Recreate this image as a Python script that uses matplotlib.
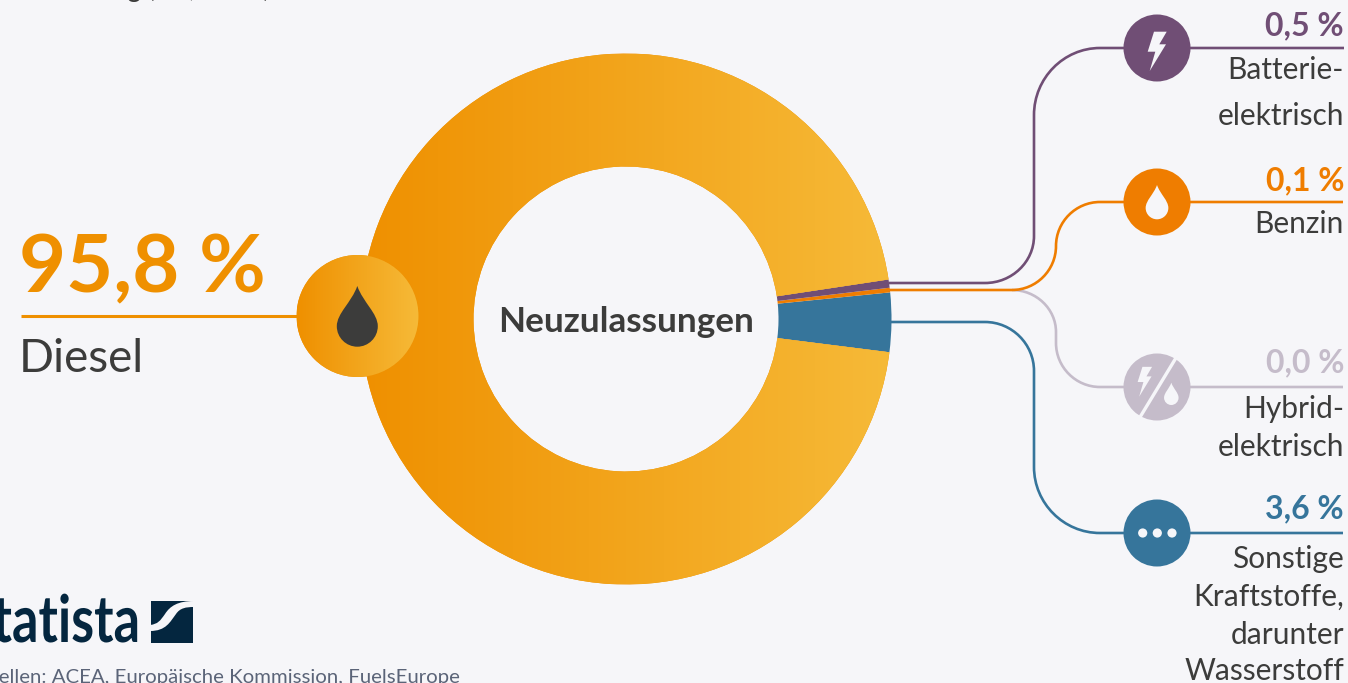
import numpy as np
import matplotlib
matplotlib.use('Agg')
import matplotlib.pyplot as plt
from matplotlib.colors import LinearSegmentedColormap
from matplotlib.patches import Circle, PathPatch, Polygon, Rectangle
from matplotlib.path import Path
from matplotlib.patheffects import AbstractPathEffect
from matplotlib.transforms import Affine2D

# donut slices, counter clockwise from the lower edge of the blue one
# (the orange sliver is drawn wider in the original than its 0,1 % label)
slice_names = ['Sonstige', 'Benzin', 'Batterie', 'Diesel']
slice_shares = [3.6, 0.28, 0.5, 95.62]

diesel_value = '95,8 %'
diesel_label = 'Diesel'
center_label = 'Neuzulassungen'

side_values = ['0,5 %', '0,1 %', '0,0 %', '3,6 %']
side_labels = [['Batterie-', 'elektrisch'],
               ['Benzin'],
               ['Hybrid-', 'elektrisch'],
               ['Sonstige', 'Kraftstoffe,', 'darunter', 'Wasserstoff']]
source_text = 'Quellen: ACEA, Europäische Kommission, FuelsEurope'
top_text = 'Verteilung (EU, 2023)'

BG = '#F6F6F9'
TEXT = '#3C3C3B'
PURPLE = '#704E75'
ORANGE = '#EF7D00'
GREY = '#C5BCCA'
BLUE = '#36759B'
NAVY = '#04263F'
FONT = 'Lato'

W, H = 1348, 683
grad = LinearSegmentedColormap.from_list('diesel', ['#EF9000', '#F6BA38'])
ramp = np.linspace(0, 1, 256).reshape(1, -1)

fig = plt.figure(figsize=(W / 100, H / 100), dpi=100, facecolor=BG)

# donut in its own axes
cx, cy, R = 626, 319, 265.5
pie_ax = fig.add_axes([(cx - R) / W, (H - cy - R) / H, 2 * R / W, 2 * R / H])
wedges, _ = pie_ax.pie(slice_shares, colors=[BLUE, ORANGE, PURPLE, '#EF9000'],
                       startangle=-7.2, counterclock=True, radius=1,
                       wedgeprops={'width': 1 - 152.5 / R, 'linewidth': 0})
im = pie_ax.imshow(ramp, cmap=grad, extent=(-1, 1, -1, 1), aspect='auto', zorder=3)
im.set_clip_path(wedges[3])
pie_ax.set_xlim(-1, 1)
pie_ax.set_ylim(-1, 1)
pie_ax.axis('off')

# everything else in pixel coordinates of the picture
ax = fig.add_axes([0, 0, 1, 1])
ax.set_xlim(0, W)
ax.set_ylim(H, 0)
ax.axis('off')
ax.patch.set_alpha(0)


class Squeeze(AbstractPathEffect):
    # narrows a text about a pixel x position, there is no condensed font here
    def __init__(self, x, fx):
        super().__init__()
        self.x, self.fx = x, fx

    def draw_path(self, renderer, gc, tpath, affine, rgbFace=None):
        t = affine + Affine2D().translate(-self.x, 0).scale(self.fx, 1).translate(self.x, 0)
        renderer.draw_path(gc, tpath, t, rgbFace)


def connector(pts, color, z=2):
    # a 2-tuple is a straight part, a 4-tuple is (corner, end of arc)
    k = 0.55
    verts = [pts[0]]
    codes = [Path.MOVETO]
    for p in pts[1:]:
        if len(p) == 2:
            verts.append(p)
            codes.append(Path.LINETO)
        else:
            x0, y0 = verts[-1]
            x1, y1, x2, y2 = p
            verts += [(x0 + (x1 - x0) * k, y0 + (y1 - y0) * k),
                      (x2 + (x1 - x2) * k, y2 + (y1 - y2) * k), (x2, y2)]
            codes += [Path.CURVE4] * 3
    ax.add_patch(PathPatch(Path(verts, codes), fc='none', ec=color, lw=1.9,
                           capstyle='butt', zorder=z))


def drop(x, top, w, h, color, z=6):
    b = top + h
    v = [(x, top),
         (x + .14 * w, top + .27 * h), (x + .5 * w, top + .45 * h), (x + .5 * w, b - .5 * w),
         (x + .5 * w, b - .22 * w), (x + .27 * w, b), (x, b),
         (x - .27 * w, b), (x - .5 * w, b - .22 * w), (x - .5 * w, b - .5 * w),
         (x - .5 * w, top + .45 * h), (x - .14 * w, top + .27 * h), (x, top)]
    c = [Path.MOVETO] + [Path.CURVE4] * 12
    ax.add_patch(PathPatch(Path(v, c), fc=color, ec='none', zorder=z))


def bolt(x, y, s, color, z=6):
    # x, y = centre of the large icon, s = scale
    shape = [(-3, -19.3), (9.7, -19.3), (2.3, -6.7), (9, -6.7), (-7.3, 20), (-1.7, 0.7), (-9.3, 0.7)]
    ax.add_patch(Polygon([(x + a * s, y + b * s) for a, b in shape], closed=True,
                         fc=color, ec='none', zorder=z))


# connecting lines
connector([(889, 283), (985, 283), (1034, 283, 1034, 236), (1034, 115), (1034, 48, 1100, 48), (1344, 48)], PURPLE)
connector([(889, 290), (1012, 290), (1056, 290, 1056, 246), (1056, 202, 1100, 202), (1343, 202)], ORANGE, 3)
connector([(1012, 290), (1056, 290, 1056, 332), (1056, 343), (1056, 387, 1100, 387), (1343, 387)], GREY)
connector([(890, 322), (985, 322), (1034, 322, 1034, 371), (1034, 467), (1034, 533, 1100, 533), (1343, 533)], BLUE)

# side circles
node_x = 1157
node_y = [48, 202, 387, 533]
node_colors = [PURPLE, ORANGE, GREY, BLUE]
for ny, col in zip(node_y, node_colors):
    ax.add_patch(Circle((node_x, ny), 33.5, fc=col, ec='none', zorder=5))
bolt(node_x, 51, 1, BG)
drop(node_x, 185, 22.7, 34.3, BG)
bolt(1144.7, 381.5, 0.76, BG)
drop(1171.3, 382.7, 14.5, 22.3, BG)
ax.plot([1176.5, 1139.5], [357, 418], color=BG, lw=2.4, zorder=6, solid_capstyle='butt')
for dx in [1142.7, 1157.3, 1172]:
    ax.add_patch(Circle((dx, 533), 4.6, fc=BG, ec='none', zorder=6))

# side texts, right aligned
value_base = [35, 190, 372, 518]
label_base = [[79, 125], [233], [418, 456], [568, 606, 644, 680]]
for val, labs, vb, lbs, col in zip(side_values, side_labels, value_base, label_base, node_colors):
    ax.text(1344, vb, val, ha='right', va='baseline', color=col, fontsize=23,
            fontweight='bold', family=FONT)
    for lab, lb in zip(labs, lbs):
        ax.text(1344, lb, lab, ha='right', va='baseline', color=TEXT, fontsize=21.5, family=FONT)

# diesel on the left
ax.plot([21, 300], [316, 316], color='#EF9000', lw=2.2, zorder=2, solid_capstyle='butt')
big = Circle((357.5, 316), 61, fc='#EF9000', ec='none', zorder=5)
ax.add_patch(big)
im2 = ax.imshow(ramp, cmap=grad, extent=(296.5, 418.5, 377, 255), aspect='auto', zorder=5.5)
im2.set_clip_path(big)
ax.set_xlim(0, W)
ax.set_ylim(H, 0)
drop(357.3, 286, 41, 60.7, TEXT)
ax.text(19, 292, diesel_value, ha='left', va='baseline', color='#EF9000', fontsize=58.5,
        fontweight='bold', family=FONT)
ax.text(19, 372, diesel_label, ha='left', va='baseline', color=TEXT, fontsize=33, family=FONT)

ax.text(626, 332, center_label, ha='center', va='baseline', color=TEXT, fontsize=25.3,
        fontweight='bold', family=FONT)

ax.text(270, -3, top_text, ha='right', va='baseline', color=TEXT, fontsize=19, family=FONT)

# logo and source, both cut off at the left edge
ax.text(140, 642, 'statista', ha='right', va='baseline', color=NAVY, fontsize=47,
        fontweight='bold', family=FONT, path_effects=[Squeeze(140, 0.8)])
ax.add_patch(Rectangle((151, 601), 42, 42, fc=NAVY, ec='none', zorder=3))
swoosh = Path([(150, 631), (166, 631), (170, 622), (176, 614), (180, 608), (186, 607), (194, 607),
               (194, 601), (178, 601), (170, 606), (165, 614), (160, 621), (158, 624), (150, 625), (150, 631)],
              [Path.MOVETO] + [Path.CURVE4] * 6 + [Path.LINETO] + [Path.CURVE4] * 6 + [Path.CLOSEPOLY])
ax.add_patch(PathPatch(swoosh, fc=BG, ec='none', zorder=4))
ax.text(460, 683, source_text, ha='right', va='baseline', color='#5B6478', fontsize=14.7, family=FONT)

fig.savefig('out.png', dpi=100, facecolor=BG)
